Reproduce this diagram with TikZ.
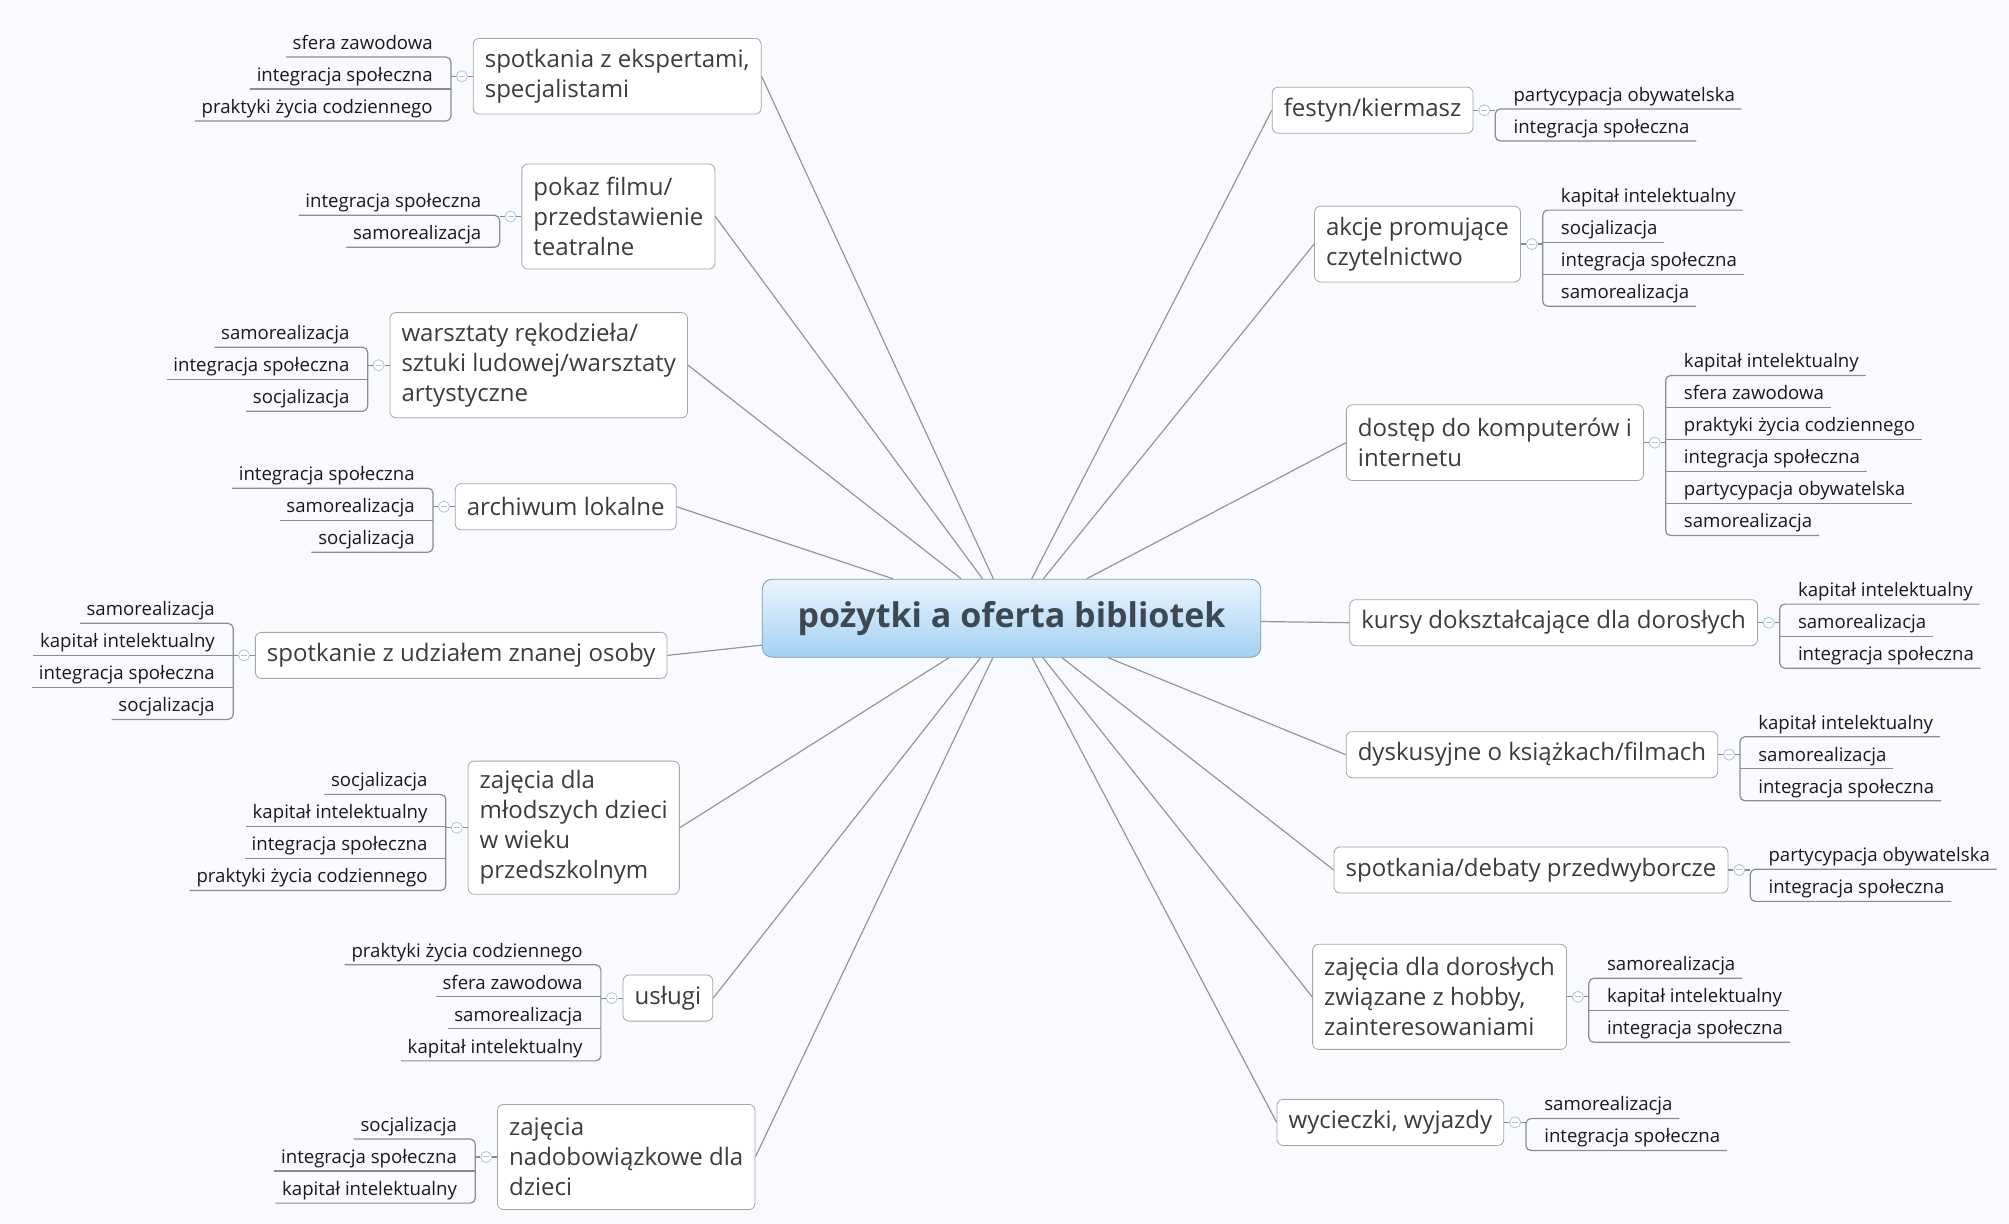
\documentclass[tikz,border=0pt]{standalone}
\usepackage{fontspec}
\setmainfont{Open Sans}
\usetikzlibrary{positioning}
\definecolor{paper}{RGB}{248,250,253}
\definecolor{linkgray}{RGB}{150,150,150}
\definecolor{boxgray}{RGB}{165,165,165}
\definecolor{twiggray}{RGB}{140,140,140}
\definecolor{topictext}{RGB}{60,60,60}
\definecolor{leaftext}{RGB}{25,25,25}
\definecolor{hubtop}{RGB}{234,245,253}
\definecolor{hubbot}{RGB}{163,209,244}
\definecolor{hubline}{RGB}{125,155,180}
\definecolor{hubtext}{RGB}{62,72,82}
\definecolor{knobline}{RGB}{170,196,222}
\tikzstyle{hub} = [rectangle, draw=hubline, top color=hubtop, bottom color=hubbot,
    rounded corners=5pt, minimum width=249pt, minimum height=39pt, text=hubtext,
    font=\fontsize{17}{20}\selectfont\bfseries]
\tikzstyle{topic} = [rectangle, draw=boxgray, fill=white, rounded corners=3pt, align=left,
    inner xsep=5.8pt, inner ysep=4pt, minimum height=23pt, text=topictext,
    font=\fontsize{12}{15}\selectfont]
\tikzstyle{leafL} = [anchor=south east, inner xsep=3.2pt, inner ysep=1.2pt, text height=7pt,
    text depth=2.4pt, text=leaftext, font=\fontsize{9.3}{11}\selectfont]
\tikzstyle{leafR} = [leafL, anchor=south west]
\tikzstyle{knob} = [circle, draw=knobline, fill=white, inner sep=0pt, minimum size=5.5pt,
    path picture={\draw[knobline, line width=0.5pt] ([xshift=-1.5pt]path picture bounding box.center) -- ([xshift=1.5pt]path picture bounding box.center);}]
\tikzstyle{link} = [draw=linkgray, line width=0.6pt]
\tikzstyle{twig} = [draw=twiggray, line width=0.6pt, rounded corners=2.5pt]
\begin{document}
\begin{tikzpicture}[x=0.64pt, y=-0.64pt]
  \fill [paper] (0,0) rectangle (1568,955);
  \useasboundingbox (0,0) rectangle (1568,955);
  % Place nodes
  \node [hub] (hub) at (789.5,482.5) {pożytki a oferta bibliotek};
  % left topics
  \node [topic, anchor=west, minimum height=37.8pt] (experts) at (369,59.5) {spotkania z ekspertami,\\specjalistami};
  \node [topic, anchor=west, minimum height=52.5pt] (film) at (407,169) {pokaz filmu/\\przedstawienie\\teatralne};
  \node [topic, anchor=west, minimum height=52.5pt] (crafts) at (304,285) {warsztaty rękodzieła/\\sztuki ludowej/warsztaty\\artystyczne};
  \node [topic, anchor=west] (archive) at (355,395.5) {archiwum lokalne};
  \node [topic, anchor=west] (guest) at (199,511.5) {spotkanie z udziałem znanej osoby};
  \node [topic, anchor=west, minimum height=66.5pt] (preschool) at (365,646) {zajęcia dla\\młodszych dzieci\\w wieku\\przedszkolnym};
  \node [topic, anchor=west] (services) at (486,779) {usługi};
  \node [topic, anchor=west, minimum height=52.5pt] (extra) at (388,903) {zajęcia\\nadobowiązkowe dla\\dzieci};
  % right topics
  \node [topic, anchor=east] (fair) at (1150,86) {festyn/kiermasz};
  \node [topic, anchor=east, minimum height=37.8pt] (reading) at (1187,190.5) {akcje promujące\\czytelnictwo};
  \node [topic, anchor=east, minimum height=37.8pt] (computers) at (1283,345.5) {dostęp do komputerów i\\internetu};
  \node [topic, anchor=east] (courses) at (1372,486) {kursy dokształcające dla dorosłych};
  \node [topic, anchor=east] (books) at (1341,589) {dyskusyjne o książkach/filmach};
  \node [topic, anchor=east] (debates) at (1349,679) {spotkania/debaty przedwyborcze};
  \node [topic, anchor=east, minimum height=52.5pt] (hobby) at (1223,778) {zajęcia dla dorosłych\\związane z hobby,\\zainteresowaniami};
  \node [topic, anchor=east] (trips) at (1174,876) {wycieczki, wyjazdy};
  % Draw edges
  \path [link] (hub) -- (experts.east);
  \path [link] (hub) -- (film.east);
  \path [link] (hub) -- (crafts.east);
  \path [link] (hub) -- (archive.east);
  \path [link] (hub) -- (guest.east);
  \path [link] (hub) -- (preschool.east);
  \path [link] (hub) -- (services.east);
  \path [link] (hub) -- (extra.east);
  \path [link] (hub) -- (fair.west);
  \path [link] (hub) -- (reading.west);
  \path [link] (hub) -- (computers.west);
  \path [link] (hub) -- (courses.west);
  \path [link] (hub) -- (books.west);
  \path [link] (hub) -- (debates.west);
  \path [link] (hub) -- (hobby.west);
  \path [link] (hub) -- (trips.west);

  % spotkania z ekspertami
  \node [knob, left=2.5pt of experts] (expertsK) {};
  \coordinate [left=2.5pt of expertsK] (expertsS);
  \path [twig] (experts) -- (expertsK) -- (expertsS);
  \node [leafL] (experts1) at (343,44.5) {sfera zawodowa};
  \node [leafL] (experts2) at (343,69.5) {integracja społeczna};
  \node [leafL] (experts3) at (343,94.5) {praktyki życia codziennego};
  \path [twig] (experts1.south west) -- (experts1.south -| expertsS) -- (experts3.south -| expertsS) -- (experts3.south west);
  \path [twig] (experts2.south west) -- (experts2.south -| expertsS);

  % pokaz filmu
  \node [knob, left=2.5pt of film] (filmK) {};
  \coordinate [left=2.5pt of filmK] (filmS);
  \path [twig] (film) -- (filmK) -- (filmS);
  \node [leafL] (film1) at (381,168) {integracja społeczna};
  \node [leafL] (film2) at (381,193) {samorealizacja};
  \path [twig] (film1.south west) -- (film1.south -| filmS) -- (film2.south -| filmS) -- (film2.south west);

  % warsztaty
  \node [knob, left=2.5pt of crafts] (craftsK) {};
  \coordinate [left=2.5pt of craftsK] (craftsS);
  \path [twig] (crafts) -- (craftsK) -- (craftsS);
  \node [leafL] (crafts1) at (278,271) {samorealizacja};
  \node [leafL] (crafts2) at (278,296) {integracja społeczna};
  \node [leafL] (crafts3) at (278,321) {socjalizacja};
  \path [twig] (crafts1.south west) -- (crafts1.south -| craftsS) -- (crafts3.south -| craftsS) -- (crafts3.south west);
  \path [twig] (crafts2.south west) -- (crafts2.south -| craftsS);

  % archiwum
  \node [knob, left=2.5pt of archive] (archiveK) {};
  \coordinate [left=2.5pt of archiveK] (archiveS);
  \path [twig] (archive) -- (archiveK) -- (archiveS);
  \node [leafL] (archive1) at (329,381) {integracja społeczna};
  \node [leafL] (archive2) at (329,406) {samorealizacja};
  \node [leafL] (archive3) at (329,431) {socjalizacja};
  \path [twig] (archive1.south west) -- (archive1.south -| archiveS) -- (archive3.south -| archiveS) -- (archive3.south west);
  \path [twig] (archive2.south west) -- (archive2.south -| archiveS);

  % znana osoba
  \node [knob, left=2.5pt of guest] (guestK) {};
  \coordinate [left=2.5pt of guestK] (guestS);
  \path [twig] (guest) -- (guestK) -- (guestS);
  \node [leafL] (guest1) at (173,486.5) {samorealizacja};
  \node [leafL] (guest2) at (173,511.5) {kapitał intelektualny};
  \node [leafL] (guest3) at (173,536.5) {integracja społeczna};
  \node [leafL] (guest4) at (173,561.5) {socjalizacja};
  \path [twig] (guest1.south west) -- (guest1.south -| guestS) -- (guest4.south -| guestS) -- (guest4.south west);
  \path [twig] (guest2.south west) -- (guest2.south -| guestS);
  \path [twig] (guest3.south west) -- (guest3.south -| guestS);

  % przedszkole
  \node [knob, left=2.5pt of preschool] (preschoolK) {};
  \coordinate [left=2.5pt of preschoolK] (preschoolS);
  \path [twig] (preschool) -- (preschoolK) -- (preschoolS);
  \node [leafL] (preschool1) at (339,620) {socjalizacja};
  \node [leafL] (preschool2) at (339,645) {kapitał intelektualny};
  \node [leafL] (preschool3) at (339,670) {integracja społeczna};
  \node [leafL] (preschool4) at (339,695) {praktyki życia codziennego};
  \path [twig] (preschool1.south west) -- (preschool1.south -| preschoolS) -- (preschool4.south -| preschoolS) -- (preschool4.south west);
  \path [twig] (preschool2.south west) -- (preschool2.south -| preschoolS);
  \path [twig] (preschool3.south west) -- (preschool3.south -| preschoolS);

  % usługi
  \node [knob, left=2.5pt of services] (servicesK) {};
  \coordinate [left=2.5pt of servicesK] (servicesS);
  \path [twig] (services) -- (servicesK) -- (servicesS);
  \node [leafL] (services1) at (460,753) {praktyki życia codziennego};
  \node [leafL] (services2) at (460,778) {sfera zawodowa};
  \node [leafL] (services3) at (460,803) {samorealizacja};
  \node [leafL] (services4) at (460,828) {kapitał intelektualny};
  \path [twig] (services1.south west) -- (services1.south -| servicesS) -- (services4.south -| servicesS) -- (services4.south west);
  \path [twig] (services2.south west) -- (services2.south -| servicesS);
  \path [twig] (services3.south west) -- (services3.south -| servicesS);

  % nadobowiązkowe
  \node [knob, left=2.5pt of extra] (extraK) {};
  \coordinate [left=2.5pt of extraK] (extraS);
  \path [twig] (extra) -- (extraK) -- (extraS);
  \node [leafL] (extra1) at (362,889) {socjalizacja};
  \node [leafL] (extra2) at (362,914) {integracja społeczna};
  \node [leafL] (extra3) at (362,939) {kapitał intelektualny};
  \path [twig] (extra1.south west) -- (extra1.south -| extraS) -- (extra3.south -| extraS) -- (extra3.south west);
  \path [twig] (extra2.south west) -- (extra2.south -| extraS);

  % festyn
  \node [knob, right=2.5pt of fair] (fairK) {};
  \coordinate [right=2.5pt of fairK] (fairS);
  \path [twig] (fair) -- (fairK) -- (fairS);
  \node [leafR] (fair1) at (1176,85) {partycypacja obywatelska};
  \node [leafR] (fair2) at (1176,110) {integracja społeczna};
  \path [twig] (fair1.south east) -- (fair1.south -| fairS) -- (fair2.south -| fairS) -- (fair2.south east);

  % czytelnictwo
  \node [knob, right=2.5pt of reading] (readingK) {};
  \coordinate [right=2.5pt of readingK] (readingS);
  \path [twig] (reading) -- (readingK) -- (readingS);
  \node [leafR] (reading1) at (1213,164) {kapitał intelektualny};
  \node [leafR] (reading2) at (1213,189) {socjalizacja};
  \node [leafR] (reading3) at (1213,214) {integracja społeczna};
  \node [leafR] (reading4) at (1213,239) {samorealizacja};
  \path [twig] (reading1.south east) -- (reading1.south -| readingS) -- (reading4.south -| readingS) -- (reading4.south east);
  \path [twig] (reading2.south east) -- (reading2.south -| readingS);
  \path [twig] (reading3.south east) -- (reading3.south -| readingS);

  % komputery
  \node [knob, right=2.5pt of computers] (computersK) {};
  \coordinate [right=2.5pt of computersK] (computersS);
  \path [twig] (computers) -- (computersK) -- (computersS);
  \node [leafR] (computers1) at (1309,293) {kapitał intelektualny};
  \node [leafR] (computers2) at (1309,318) {sfera zawodowa};
  \node [leafR] (computers3) at (1309,343) {praktyki życia codziennego};
  \node [leafR] (computers4) at (1309,368) {integracja społeczna};
  \node [leafR] (computers5) at (1309,393) {partycypacja obywatelska};
  \node [leafR] (computers6) at (1309,418) {samorealizacja};
  \path [twig] (computers1.south east) -- (computers1.south -| computersS) -- (computers6.south -| computersS) -- (computers6.south east);
  \path [twig] (computers2.south east) -- (computers2.south -| computersS);
  \path [twig] (computers3.south east) -- (computers3.south -| computersS);
  \path [twig] (computers4.south east) -- (computers4.south -| computersS);
  \path [twig] (computers5.south east) -- (computers5.south -| computersS);

  % kursy
  \node [knob, right=2.5pt of courses] (coursesK) {};
  \coordinate [right=2.5pt of coursesK] (coursesS);
  \path [twig] (courses) -- (coursesK) -- (coursesS);
  \node [leafR] (courses1) at (1398,471.5) {kapitał intelektualny};
  \node [leafR] (courses2) at (1398,496.5) {samorealizacja};
  \node [leafR] (courses3) at (1398,521.5) {integracja społeczna};
  \path [twig] (courses1.south east) -- (courses1.south -| coursesS) -- (courses3.south -| coursesS) -- (courses3.south east);
  \path [twig] (courses2.south east) -- (courses2.south -| coursesS);

  % dyskusyjne
  \node [knob, right=2.5pt of books] (booksK) {};
  \coordinate [right=2.5pt of booksK] (booksS);
  \path [twig] (books) -- (booksK) -- (booksS);
  \node [leafR] (books1) at (1367,575) {kapitał intelektualny};
  \node [leafR] (books2) at (1367,600) {samorealizacja};
  \node [leafR] (books3) at (1367,625) {integracja społeczna};
  \path [twig] (books1.south east) -- (books1.south -| booksS) -- (books3.south -| booksS) -- (books3.south east);
  \path [twig] (books2.south east) -- (books2.south -| booksS);

  % debaty
  \node [knob, right=2.5pt of debates] (debatesK) {};
  \coordinate [right=2.5pt of debatesK] (debatesS);
  \path [twig] (debates) -- (debatesK) -- (debatesS);
  \node [leafR] (debates1) at (1375,678.5) {partycypacja obywatelska};
  \node [leafR] (debates2) at (1375,703.5) {integracja społeczna};
  \path [twig] (debates1.south east) -- (debates1.south -| debatesS) -- (debates2.south -| debatesS) -- (debates2.south east);

  % hobby
  \node [knob, right=2.5pt of hobby] (hobbyK) {};
  \coordinate [right=2.5pt of hobbyK] (hobbyS);
  \path [twig] (hobby) -- (hobbyK) -- (hobbyS);
  \node [leafR] (hobby1) at (1249,763.5) {samorealizacja};
  \node [leafR] (hobby2) at (1249,788.5) {kapitał intelektualny};
  \node [leafR] (hobby3) at (1249,813.5) {integracja społeczna};
  \path [twig] (hobby1.south east) -- (hobby1.south -| hobbyS) -- (hobby3.south -| hobbyS) -- (hobby3.south east);
  \path [twig] (hobby2.south east) -- (hobby2.south -| hobbyS);

  % wycieczki
  \node [knob, right=2.5pt of trips] (tripsK) {};
  \coordinate [right=2.5pt of tripsK] (tripsS);
  \path [twig] (trips) -- (tripsK) -- (tripsS);
  \node [leafR] (trips1) at (1200,873) {samorealizacja};
  \node [leafR] (trips2) at (1200,898) {integracja społeczna};
  \path [twig] (trips1.south east) -- (trips1.south -| tripsS) -- (trips2.south -| tripsS) -- (trips2.south east);
\end{tikzpicture}
\end{document}
